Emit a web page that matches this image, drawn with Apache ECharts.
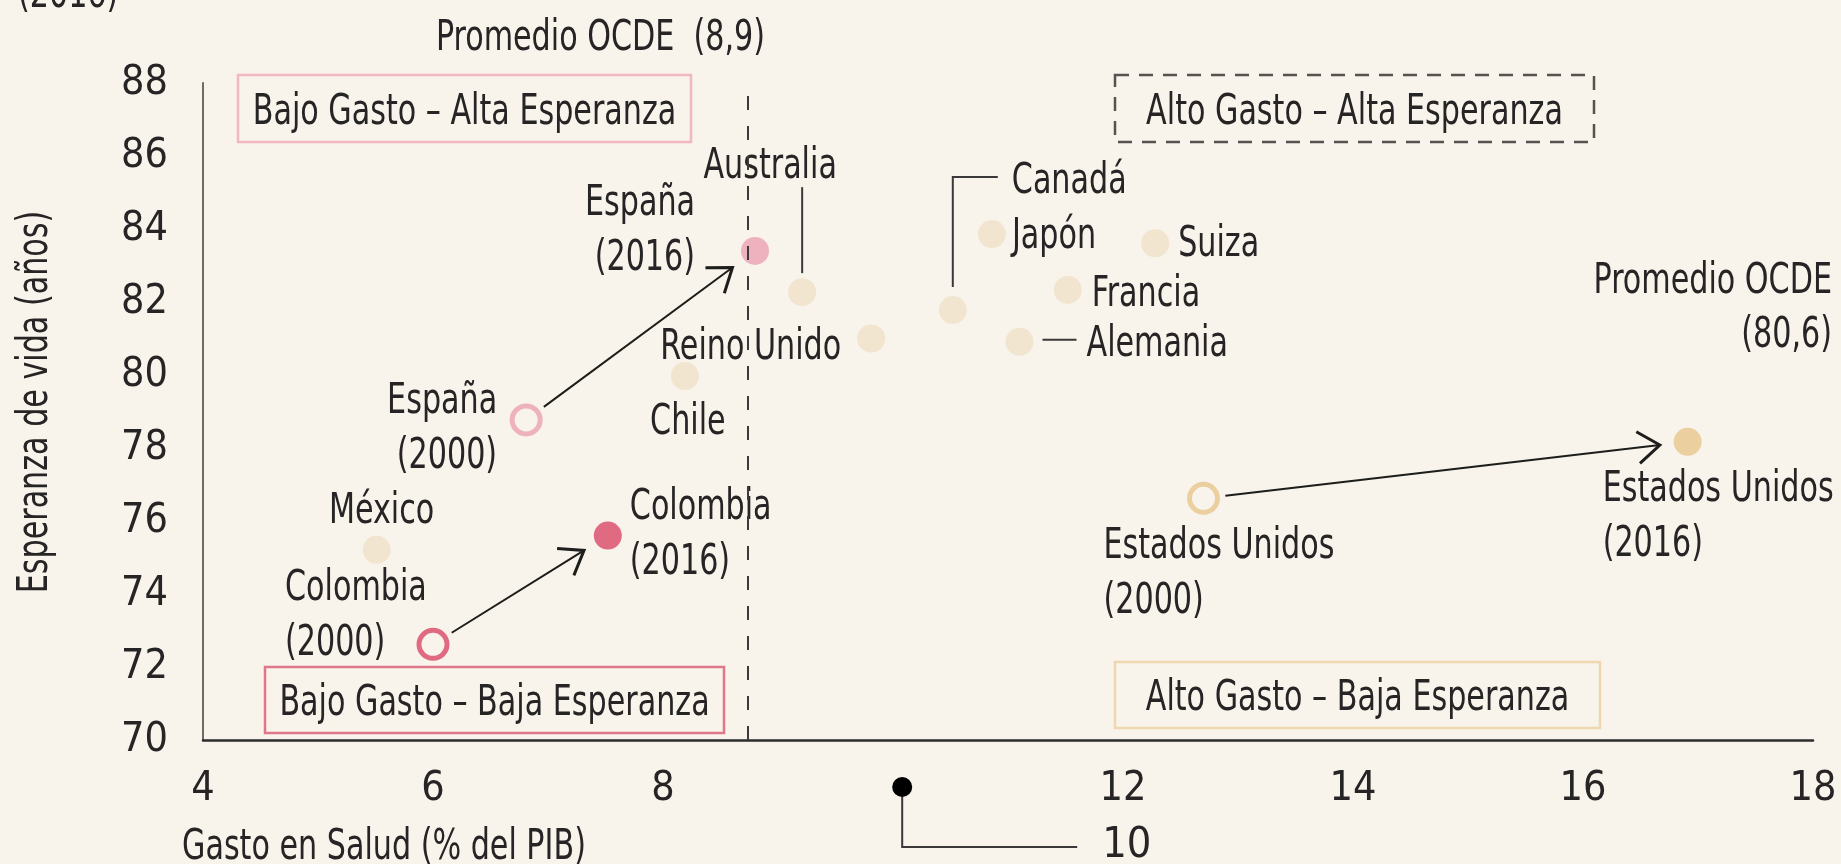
<!DOCTYPE html>
<html>
<head>
<meta charset="utf-8">
<script src="https://cdn.jsdelivr.net/npm/echarts@6/dist/echarts.min.js"></script>
<style>
  html, body { margin: 0; padding: 0; background: #f8f3eb; }
  #chart { width: 1841px; height: 864px; }
</style>
</head>
<body>
<div id="chart"></div>
<script>
// ---- datos ----
var paises = ['Australia', 'Reino Unido', 'Chile', 'México', 'Canadá', 'Japón', 'Suiza', 'Francia', 'Alemania'];
var gastoPaises = [9.21, 9.81, 8.19, 5.51, 10.52, 10.86, 12.28, 11.52, 11.10];
var esperanzaPaises = [82.27, 81.0, 79.97, 75.21, 81.78, 83.86, 83.61, 82.33, 80.91];

var seguidos = ['España', 'Colombia', 'Estados Unidos'];
var gasto2000 = [6.81, 6.0, 12.70];
var esperanza2000 = [78.77, 72.62, 76.62];
var gasto2016 = [8.80, 7.52, 16.91];
var esperanza2016 = [83.4, 75.6, 78.17];

var promedioGasto = 8.74;
var promedioEsperanza = 80.18;
var xTicks = [4, 6, 8, 10, 12, 14, 16, 18];
var yTicks = [70, 72, 74, 76, 78, 80, 82, 84, 86, 88];
var marcaDiez = 10.08; // punto que reemplaza la etiqueta "10"

// ---- estilos ----
var FONT = "'DejaVu Sans Condensed', 'DejaVu Sans', sans-serif";
var TXT = '#262424';
var FS = 43;     // tamaño de texto
var SX = 0.78;   // estrechamiento horizontal (la fuente original es condensada)
var colorSeguidos = ['#eeb2be', '#e06a81', '#ebcf9f'];
var colorPaises = '#f1e5cf';

// desplazamiento de etiquetas (px): [dx, dy, align]
var posPaises = {
  'Australia': [-32, -130, 'center'],
  'Reino Unido': [-30, 4, 'right'],
  'Chile': [3, 42, 'center'],
  'México': [5, -43, 'center'],
  'Canadá': [59, -133, 'left'],
  'Japón': [20, -2, 'left'],
  'Suiza': [23, -3, 'left'],
  'Francia': [24, 0, 'left'],
  'Alemania': [67, -2, 'left']
};
var pos2016 = { 'España': [-60, -25, 'right'], 'Colombia': [22, -5, 'left'], 'Estados Unidos': [-85, 71, 'left'] };
var pos2000 = { 'España': [-29, 4, 'right'], 'Colombia': [-148, -33, 'left'], 'Estados Unidos': [-100, 71, 'left'] };
// líneas guía (px relativos al punto)
var guias = {
  'Australia': [[0, -19], [0, -105]],
  'Canadá': [[0, -23], [0, -133], [45, -133]],
  'Alemania': [[23, -2], [57, -2]]
};

function fuente(t) { return { text: t, fill: TXT, font: FS + 'px ' + FONT }; }

var datosPaises = paises.map(function (n, i) {
  return { name: n, value: [gastoPaises[i], esperanzaPaises[i]] };
});
var datos2016 = seguidos.map(function (n, i) {
  return { name: n, value: [gasto2016[i], esperanza2016[i]], itemStyle: { color: colorSeguidos[i] } };
});
var datos2000 = seguidos.map(function (n, i) {
  return {
    name: n, value: [gasto2000[i], esperanza2000[i]],
    itemStyle: { color: 'rgba(0,0,0,0)', borderColor: colorSeguidos[i], borderWidth: 5 }
  };
});

// etiquetas de los puntos
var etqTexto = [], etqPos = [], etqDatos = [];
paises.forEach(function (n, i) {
  etqDatos.push([gastoPaises[i], esperanzaPaises[i], etqTexto.length]);
  etqTexto.push(n); etqPos.push(posPaises[n]);
});
seguidos.forEach(function (n, i) {
  etqDatos.push([gasto2016[i], esperanza2016[i], etqTexto.length]);
  etqTexto.push(n + '\n(2016)'); etqPos.push(pos2016[n]);
  etqDatos.push([gasto2000[i], esperanza2000[i], etqTexto.length]);
  etqTexto.push(n + '\n(2000)'); etqPos.push(pos2000[n]);
});

var datosFlechas = seguidos.map(function (n, i) {
  return [gasto2000[i], esperanza2000[i], gasto2016[i], esperanza2016[i]];
});
var datosGuias = [];
paises.forEach(function (n, i) {
  if (guias[n]) datosGuias.push([gastoPaises[i], esperanzaPaises[i], i]);
});

function dibujarEtiqueta(params, api) {
  var p = api.coord([api.value(0), api.value(1)]);
  var k = api.value(2), q = etqPos[k];
  var st = fuente(etqTexto[k]);
  st.align = q[2]; st.verticalAlign = 'middle'; st.lineHeight = 55;
  return { type: 'text', x: p[0] + q[0], y: p[1] + q[1] + 5, scaleX: SX, style: st };
}

function dibujarFlecha(params, api) {
  var a = api.coord([api.value(0), api.value(1)]);
  var b = api.coord([api.value(2), api.value(3)]);
  var dx = b[0] - a[0], dy = b[1] - a[1];
  var len = Math.sqrt(dx * dx + dy * dy);
  var ux = dx / len, uy = dy / len;
  var s = [a[0] + ux * 22, a[1] + uy * 22];
  var e = [b[0] - ux * 28, b[1] - uy * 28];
  var ang = 36 * Math.PI / 180, L = 27;
  function brazo(sg) {
    var c = Math.cos(sg * ang), sn = Math.sin(sg * ang);
    var vx = -ux, vy = -uy;
    return [e[0] + L * (vx * c - vy * sn), e[1] + L * (vx * sn + vy * c)];
  }
  return {
    type: 'group',
    children: [
      { type: 'line', shape: { x1: s[0], y1: s[1], x2: e[0], y2: e[1] }, style: { stroke: '#1d1d1b', lineWidth: 2 } },
      { type: 'polyline', shape: { points: [brazo(1), e, brazo(-1)] }, style: { stroke: '#1d1d1b', lineWidth: 3, fill: null } }
    ]
  };
}

function dibujarGuia(params, api) {
  var p = api.coord([api.value(0), api.value(1)]);
  var camino = guias[paises[api.value(2)]];
  return {
    type: 'polyline',
    shape: { points: camino.map(function (q) { return [p[0] + q[0], p[1] + q[1]]; }) },
    style: { stroke: '#3a3838', lineWidth: 2, fill: null }
  };
}

function dibujarDiez(params, api) {
  var p = api.coord([api.value(0), api.value(1)]);
  var y0 = p[1] + 47;
  var st = fuente(String(xTicks[3]));
  st.verticalAlign = 'middle'; st.align = 'left';
  return {
    type: 'group',
    children: [
      { type: 'polyline', shape: { points: [[p[0], y0], [p[0], p[1] + 107], [p[0] + 175, p[1] + 107]] }, style: { stroke: '#3a3838', lineWidth: 2, fill: null } },
      { type: 'circle', shape: { cx: p[0], cy: y0, r: 10 }, style: { fill: '#000' } },
      { type: 'text', x: p[0] + 200, y: p[1] + 106, style: st }
    ]
  };
}

function texto(x, y, t, align, extra) {
  var st = fuente(t);
  st.align = align; st.verticalAlign = 'middle';
  if (extra) st.lineHeight = extra;
  return { type: 'text', x: x, y: y, scaleX: SX, style: st };
}

function caja(x, y, w, h, t, borde, guiones) {
  return {
    type: 'group', x: x, y: y,
    children: [
      { type: 'rect', shape: { x: 0, y: 0, width: w, height: h }, style: { fill: null, stroke: borde, lineWidth: 2.5, lineDash: guiones || null } },
      texto(w / 2, h / 2 + 4, t, 'center')
    ]
  };
}

var chart = echarts.init(document.getElementById('chart'));
var option = {
  backgroundColor: '#f8f3eb',
  animation: false,
  grid: { left: 203, right: 28, top: 83, bottom: 124 },
  xAxis: {
    type: 'value', min: xTicks[0], max: xTicks[xTicks.length - 1], interval: 2,
    splitLine: { show: false }, axisTick: { show: false },
    axisLine: { lineStyle: { color: '#2d2d2d', width: 2.5 } },
    axisLabel: {
      margin: 29, color: TXT, fontFamily: FONT, fontSize: 41,
      formatter: function (v) { return v === xTicks[3] ? '' : String(v); }
    }
  },
  yAxis: {
    type: 'value', min: yTicks[0], max: yTicks[yTicks.length - 1], interval: 2,
    splitLine: { show: false }, axisTick: { show: false },
    axisLine: { show: true, lineStyle: { color: '#6e6a66', width: 2 } },
    axisLabel: { margin: 35, color: TXT, fontFamily: FONT, fontSize: 41 }
  },
  graphic: [
    texto(18, -4, '(2016)', 'left'),
    { type: 'text', x: 36, y: 402, rotation: Math.PI / 2, scaleX: SX,
      style: { text: 'Esperanza de vida (años)', fill: TXT, font: FS + 'px ' + FONT, align: 'center', verticalAlign: 'middle' } },
    texto(182, 848, 'Gasto en Salud (% del PIB)', 'left'),
    texto(765, 39, 'Promedio OCDE  (8,9)', 'right'),
    texto(1832, 309, 'Promedio OCDE\n(80,6)', 'right', 54),
    caja(238, 75, 453, 67, 'Bajo Gasto – Alta Esperanza', '#f2b8c2'),
    caja(1115, 75, 479, 67, 'Alto Gasto – Alta Esperanza', '#555350', [14, 10]),
    caja(265, 667, 459, 66, 'Bajo Gasto – Baja Esperanza', '#e0778b'),
    caja(1115, 662, 485, 66, 'Alto Gasto – Baja Esperanza', '#efd8b0')
  ],
  series: [
    {
      type: 'scatter', data: [], z: 1,
      markLine: {
        silent: true, symbol: 'none', label: { show: false },
        lineStyle: { color: '#3d3b39', width: 2, type: [14, 16] },
        data: [
          { xAxis: promedioGasto },
          [{ coord: [4.05, promedioEsperanza] }, { coord: [18.17, promedioEsperanza] }]
        ]
      }
    },
    { type: 'custom', renderItem: dibujarGuia, data: datosGuias, clip: false, z: 2, encode: { x: 0, y: 1 } },
    { type: 'scatter', symbolSize: 28, itemStyle: { color: colorPaises, opacity: 1 }, data: datosPaises, z: 3 },
    { type: 'scatter', symbolSize: 28, itemStyle: { opacity: 1 }, data: datos2016, z: 3 },
    { type: 'scatter', symbolSize: 28, itemStyle: { opacity: 1 }, data: datos2000, z: 3 },
    { type: 'custom', renderItem: dibujarEtiqueta, data: etqDatos, clip: false, z: 4, encode: { x: 0, y: 1 } },
    { type: 'custom', renderItem: dibujarFlecha, data: datosFlechas, clip: false, z: 4, encode: { x: [0, 2], y: [1, 3] } },
    { type: 'custom', renderItem: dibujarDiez, data: [[marcaDiez, yTicks[0]]], clip: false, z: 4, encode: { x: 0, y: 1 } }
  ]
};
chart.setOption(option);
</script>
</body>
</html>
